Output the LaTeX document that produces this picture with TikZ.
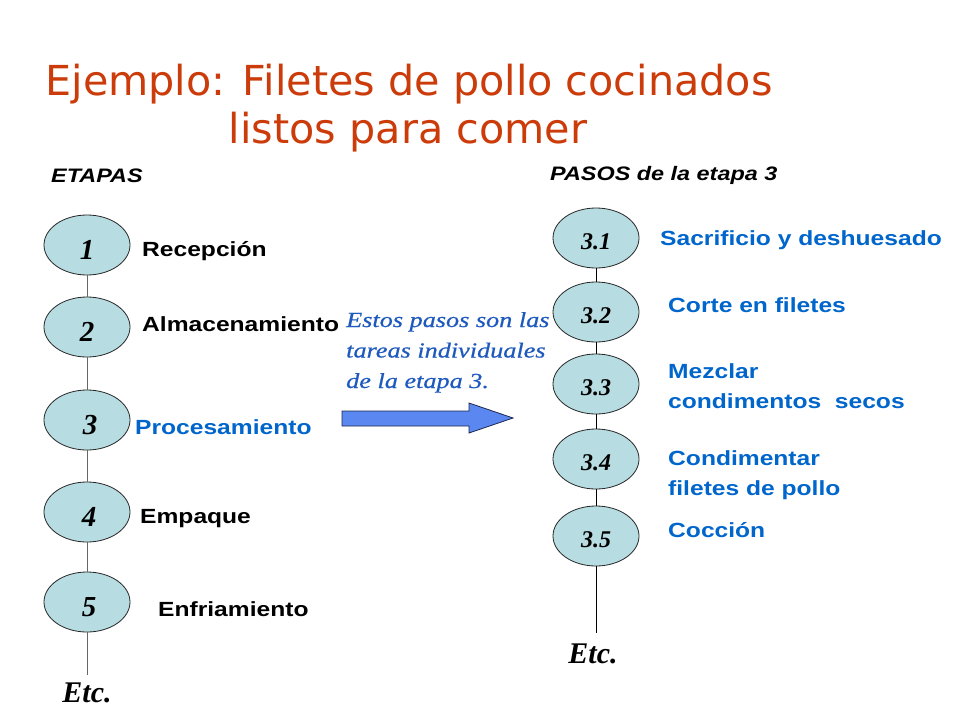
\documentclass[tikz,border=0pt]{standalone}
\usepackage{fontspec}
\usetikzlibrary{shapes.geometric}
\newfontfamily\titlefont{DejaVu Sans}
\newfontfamily\labfont[FakeStretch=1.2]{Liberation Sans}
\newfontfamily\numfont{Liberation Serif}
\newfontfamily\notefont[FakeStretch=1.22,FakeBold=0.6]{Liberation Serif}
\definecolor{titlered}{RGB}{204,60,10}
\definecolor{labblue}{RGB}{0,102,204}
\definecolor{noteblue}{RGB}{30,90,190}
\definecolor{ellfill}{RGB}{183,221,226}
\definecolor{arrowfill}{RGB}{90,136,240}
\definecolor{arrowline}{RGB}{30,40,80}
\begin{document}
\begin{tikzpicture}[x=1pt,y=-1pt,
  stage/.style={ellipse,draw=black!85,fill=ellfill,line width=0.8pt,
    minimum width=86pt,minimum height=60pt,inner sep=0pt},
  bignum/.style={font=\numfont\bfseries\itshape\fontsize{29}{29}\selectfont,
    text height=29pt,text depth=0pt},
  smallnum/.style={font=\numfont\bfseries\itshape\fontsize{24}{24}\selectfont,
    text height=22pt,text depth=0pt},
  lab/.style={anchor=base west,inner sep=0pt,align=left,
    font=\labfont\bfseries\fontsize{20.5}{30}\selectfont},
  head/.style={anchor=base west,inner sep=0pt,
    font=\labfont\bfseries\itshape\fontsize{19.5}{22}\selectfont},
  titletext/.style={anchor=base,inner sep=0pt,text=titlered,
    font=\titlefont\fontsize{41.3}{45}\selectfont},
  note/.style={anchor=base west,inner sep=0pt,align=left,text=noteblue,
    font=\notefont\itshape\fontsize{21.5}{30.5}\selectfont},
  etc/.style={anchor=base,inner sep=0pt,
    font=\numfont\bfseries\itshape\fontsize{30}{30}\selectfont},
  leftline/.style={draw=black!60,line width=0.9pt},
  rightline/.style={draw=black,line width=0.9pt}
]
\fill[white] (0,0) rectangle (960,720);
\useasboundingbox (0,0) rectangle (960,720);

% title
\node[titletext] (title1) at (409,95) {Ejemplo: Filetes de pollo cocinados};
\node[titletext] (title2) at (408,143) {listos para comer};

% headers
\node[head] (hetapas) at (51,182) {ETAPAS};
\node[head] (hpasos) at (550,180) {PASOS de la etapa 3};

% left stages
\node[stage,bignum] (s1) at (87,245) {1};
\node[stage,bignum] (s2) at (87,327) {2};
\node[stage,bignum] (s3) at (87,420) {\hspace{6pt}3};
\node[stage,bignum] (s4) at (87,512) {\hspace{4pt}4};
\node[stage,bignum] (s5) at (87,602) {\hspace{4pt}5};
\coordinate (lend) at (87,675);
\draw[leftline] (s1) -- (s2);
\draw[leftline] (s2) -- (s3);
\draw[leftline] (s3) -- (s4);
\draw[leftline] (s4) -- (s5);
\draw[leftline] (s5) -- (lend);
\node[etc] (letc) at (87,702) {Etc.};

\node[lab] (l1) at (142,256) {Recepción};
\node[lab] (l2) at (142,331) {Almacenamiento};
\node[lab,text=labblue] (l3) at (135,434) {Procesamiento};
\node[lab] (l4) at (140,523) {Empaque};
\node[lab] (l5) at (158,616) {Enfriamiento};

% note and arrow
\node[note] (note) at (346,388) {Estos pasos son las\\tareas individuales\\de la etapa 3.};
\draw[fill=arrowfill,draw=arrowline,line width=0.8pt]
  (342,411) -- (469,411) -- (469,403) -- (513,418) -- (469,433) -- (469,426) -- (342,426) -- cycle;

% right steps
\node[stage,smallnum] (p1) at (596,238) {3.1};
\node[stage,smallnum] (p2) at (596,312) {3.2};
\node[stage,smallnum] (p3) at (596,384) {3.3};
\node[stage,smallnum] (p4) at (596,459) {3.4};
\node[stage,smallnum] (p5) at (596,536) {3.5};
\coordinate (rend) at (596,633);
\draw[rightline] (p1) -- (p2);
\draw[rightline] (p2) -- (p3);
\draw[rightline] (p3) -- (p4);
\draw[rightline] (p4) -- (p5);
\draw[rightline] (p5) -- (rend);
\node[etc] (retc) at (593,663) {Etc.};

\node[lab,text=labblue] (r1) at (660,245) {Sacrificio y deshuesado};
\node[lab,text=labblue] (r2) at (668,312) {Corte en filetes};
\node[lab,text=labblue] (r3) at (668,408) {Mezclar\\condimentos\ \ secos};
\node[lab,text=labblue] (r4) at (668,495) {Condimentar\\filetes de pollo};
\node[lab,text=labblue] (r5) at (668,537) {Cocción};
\end{tikzpicture}
\end{document}
